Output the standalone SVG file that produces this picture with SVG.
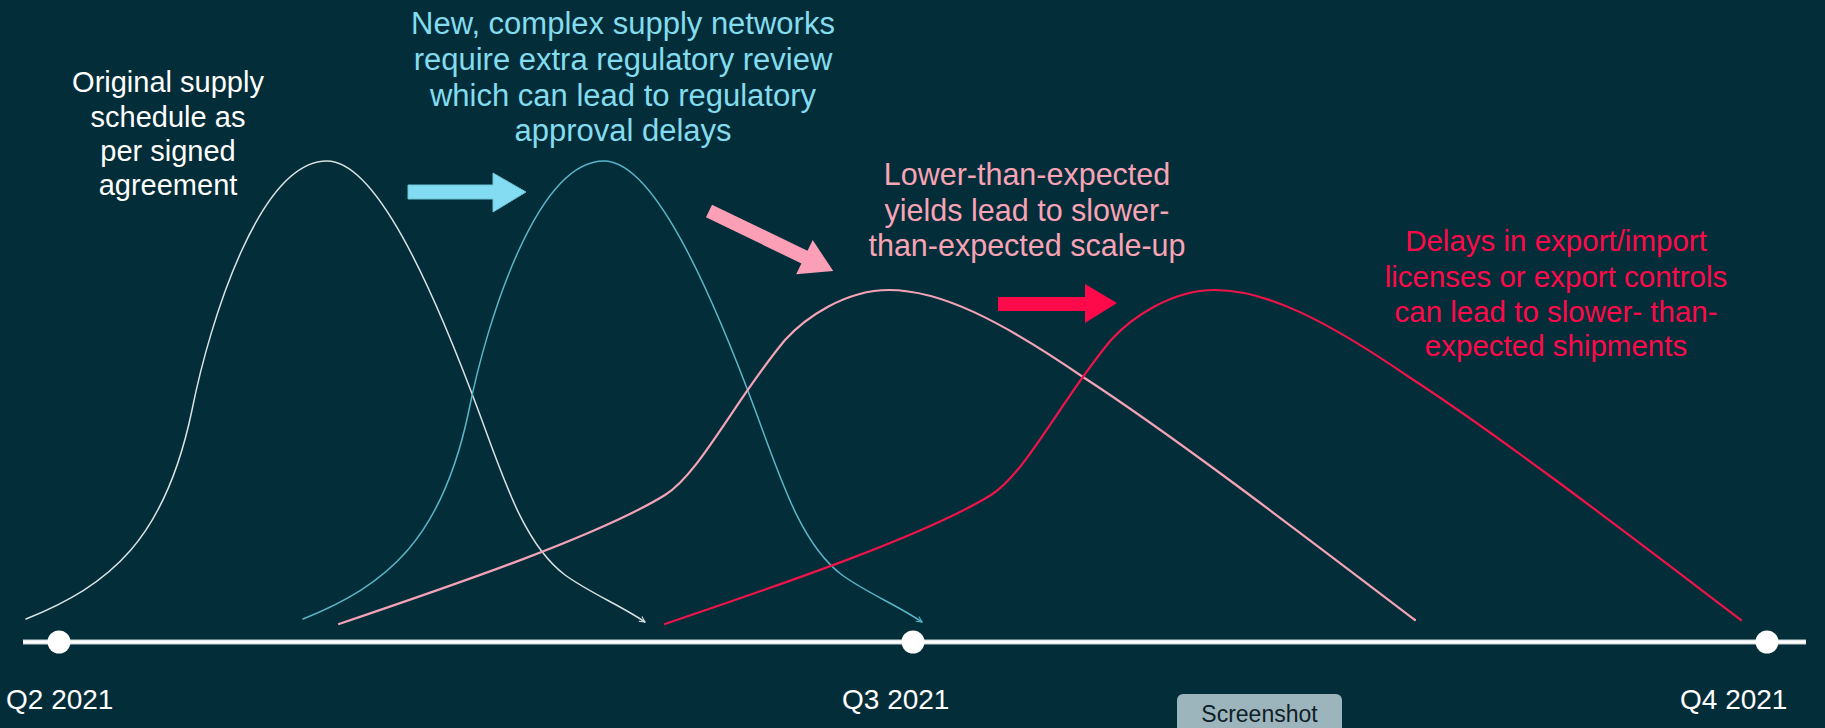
<svg xmlns="http://www.w3.org/2000/svg" width="1825" height="728" viewBox="0 0 1825 728">
<style>
.t{font-family:"Liberation Sans",Arial,sans-serif;font-size:30px;text-anchor:middle}
.q{font-family:"Liberation Sans",Arial,sans-serif;font-size:28px;fill:#ffffff}
.crv{fill:none;stroke-linecap:round;stroke-linejoin:round}
</style>
<defs>
<marker id="mw" viewBox="0 0 10 10" refX="9" refY="5" markerWidth="7" markerHeight="7" markerUnits="userSpaceOnUse" orient="auto"><path d="M1,1 L9,5 L1,9" fill="none" stroke="#d8e2e2" stroke-width="1.5"/></marker>
<marker id="mc" viewBox="0 0 10 10" refX="9" refY="5" markerWidth="7" markerHeight="7" markerUnits="userSpaceOnUse" orient="auto"><path d="M1,1 L9,5 L1,9" fill="none" stroke="#5ab6c8" stroke-width="1.5"/></marker>
</defs>
<rect width="1825" height="728" fill="#032d38"/>

<g id="curves">
<path id="curve-original" class="crv" stroke="#d8e2e2" stroke-width="1.5" marker-end="url(#mw)" d="M26,619 C110,585 165,540 192,410 C210,320 260,161 327,161 C375,161 430,280 480,415 C505,483 525,545 565,575 C590,593 620,605 645,622"/>
<path id="curve-regulatory" class="crv" stroke="#5ab6c8" stroke-width="1.5" marker-end="url(#mc)" transform="translate(277,0)" d="M26,619 C110,585 165,540 192,410 C210,320 260,161 327,161 C375,161 430,280 480,415 C505,483 525,545 565,575 C590,593 620,605 645,622"/>
<path id="curve-yields" class="crv" stroke="#f4a3b6" stroke-width="2.2" d="M339,624 C460,583 600,535 665,495 C700,473 735,400 785,340 C805,318 845,290 889,290 C940,290 1000,320 1083,377 C1180,440 1320,548 1415,620"/>
<path id="curve-export" class="crv" stroke="#ee1449" stroke-width="2.2" transform="translate(326,0)" d="M339,624 C460,583 600,535 665,495 C700,473 735,400 785,340 C805,318 845,290 889,290 C940,290 1000,320 1083,377 C1180,440 1320,548 1415,620"/>
</g>

<g id="connectors">
<polygon id="arrow-cyan" points="408,185 493,185 493,173 526,192 493,212 493,199 408,199" fill="#84dcf2" stroke="#6cc3d6" stroke-width="1"/>
<polygon id="arrow-pink" transform="translate(709,211) rotate(25.8)" points="0,-7 106,-7 106,-19 138,0 106,19 106,7 0,7" fill="#fb9fb6"/>
<polygon id="arrow-red" points="998,297 1085,297 1085,284 1117,303 1085,323 1085,311 998,311" fill="#fe0a4b"/>
</g>

<g id="label-original" font-size="29">
<text class="t" style="font-size:29px" fill="#ffffff" x="168" y="92">Original supply</text>
<text class="t" style="font-size:29px" fill="#ffffff" x="168" y="127">schedule as</text>
<text class="t" style="font-size:29px" fill="#ffffff" x="168" y="161">per signed</text>
<text class="t" style="font-size:29px" fill="#ffffff" x="168" y="195">agreement</text>
</g>
<g id="label-regulatory">
<text class="t" style="font-size:31px" fill="#84dcef" x="623" y="34">New, complex supply networks</text>
<text class="t" style="font-size:31px" fill="#84dcef" x="623" y="70">require extra regulatory review</text>
<text class="t" style="font-size:31px" fill="#84dcef" x="623" y="105.5">which can lead to regulatory</text>
<text class="t" style="font-size:31px" fill="#84dcef" x="623" y="141">approval delays</text>
</g>
<g id="label-yields">
<text class="t" style="font-size:30.5px" fill="#f8a3b6" x="1027" y="185">Lower-than-expected</text>
<text class="t" style="font-size:30.5px" fill="#f8a3b6" x="1027" y="221">yields lead to slower-</text>
<text class="t" style="font-size:30.5px" fill="#f8a3b6" x="1027" y="256">than-expected scale-up</text>
</g>
<g id="label-export">
<text class="t" style="font-size:29.5px" fill="#fc0a4a" x="1556" y="251">Delays in export/import</text>
<text class="t" style="font-size:29.5px" fill="#fc0a4a" x="1556" y="287">licenses or export controls</text>
<text class="t" style="font-size:29.5px" fill="#fc0a4a" x="1556" y="322">can lead to slower- than-</text>
<text class="t" style="font-size:29.5px" fill="#fc0a4a" x="1556" y="356">expected shipments</text>
</g>

<g id="axis">
<line x1="23" y1="642" x2="1806" y2="642" stroke="#c9d5d8" stroke-width="5"/>
<line x1="23" y1="642" x2="1806" y2="642" stroke="#ffffff" stroke-width="3"/>
<circle cx="59" cy="642" r="11.5" fill="#ffffff"/>
<circle cx="913" cy="642" r="11.5" fill="#ffffff"/>
<circle cx="1767" cy="642" r="11.5" fill="#ffffff"/>
<text class="q" x="6" y="709">Q2 2021</text>
<text class="q" x="842" y="709">Q3 2021</text>
<text class="q" x="1680" y="709">Q4 2021</text>
</g>

<g id="screenshot-button">
<rect x="1177" y="694" width="165" height="44" rx="6" fill="#9cb5bc"/>
<text x="1259.5" y="722" font-family="Liberation Sans, Arial, sans-serif" font-size="23" fill="#0f2028" text-anchor="middle">Screenshot</text>
</g>
</svg>
